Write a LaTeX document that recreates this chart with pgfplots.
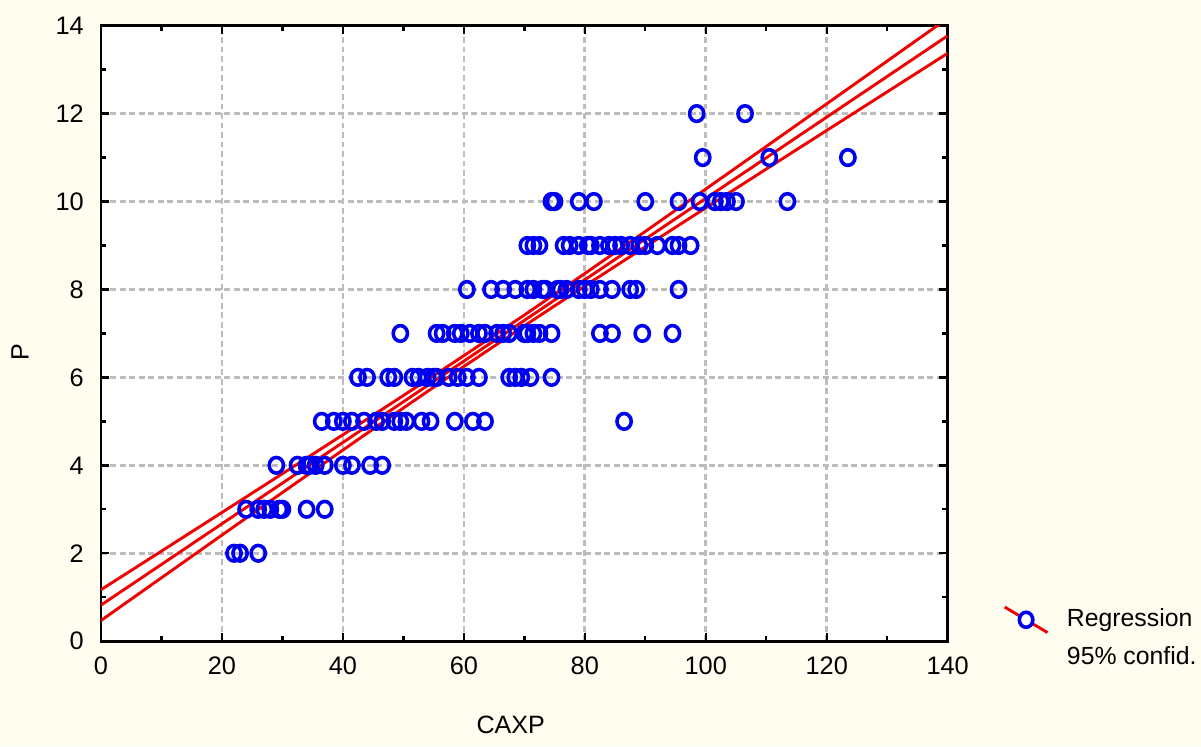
\documentclass[border=0pt]{standalone}
\usepackage{fontspec}
\setmainfont{Liberation Sans}
\usepackage{pgfplots}
\pgfplotsset{compat=1.18}
\definecolor{bgcream}{HTML}{FFFCF0}
\definecolor{gridgray}{HTML}{BDBDBD}
\definecolor{ptblue}{HTML}{0000F0}
\definecolor{regred}{HTML}{F00000}

\begin{document}
\begin{tikzpicture}
% page background (image is 1201x746 px, 1px = 0.01333cm)
\fill[bgcream] (-1.345cm,-1.398cm) rectangle (14.655cm,8.542cm);
\begin{axis}[
  scale only axis,
  width=11.28cm, height=8.2cm,
  xmin=0, xmax=140, ymin=0, ymax=14,
  xtick={0,20,...,140}, ytick={0,2,...,14},
  minor tick num=1,
  tick align=inside,
  major tick length=0.11cm, minor tick length=0.07cm,
  every tick/.style={black, line width=0.9pt},
  axis line style={black, line width=1.1pt},
  axis background/.style={fill=white},
  grid=major,
  major grid style={gridgray, line width=1pt, dash pattern=on 2.2pt off 1.4pt},
  tick label style={font=\fontsize{9.6}{11}\selectfont},
  /pgf/number format/assume math mode=true,
  xticklabel shift=2.5pt, yticklabel shift=3pt,
  label style={font=\fontsize{9.5}{11}\selectfont},
  xlabel={CAXP}, ylabel={P},
  xlabel style={at={(axis description cs:0.484,-0.136)}, anchor=center},
  ylabel style={at={(axis description cs:-0.0956,0.469)}, anchor=center},
  legend style={draw=none, fill=none, at={(axis description cs:1.065,0.062)},
    anchor=north west, font=\fontsize{9.4}{12}\selectfont,
    row sep=2pt, inner sep=0pt,
    /tikz/every odd column/.append style={column sep=0.17cm}},
  legend cell align=left,
]
% observations
\addplot[only marks, mark=o, mark size=2.7pt, ptblue,
  mark options={line width=1.35pt, yscale=1.1}, forget plot] coordinates {
  (22,2) (23,2) (26,2)
  (24,3) (26,3) (27,3) (28,3) (29.5,3) (30,3) (34,3) (37,3)
  (29,4) (32.5,4) (34,4) (34.5,4) (35.5,4) (37,4) (40,4) (41.5,4) (44.5,4) (46.5,4)
  (36.5,5) (38.5,5) (40,5) (41.5,5) (43.5,5) (45.5,5) (46.5,5) (48.5,5) (49.5,5)
  (50.5,5) (53,5) (54.5,5) (58.5,5) (61.5,5) (63.5,5) (86.5,5)
  (42.5,6) (44,6) (47.5,6) (48.5,6) (51.5,6) (52.5,6) (54,6) (55,6) (55.5,6)
  (57.5,6) (59,6) (60.5,6) (62.5,6) (67.5,6) (68.5,6) (69.5,6) (71,6) (74.5,6)
  (49.5,7) (55.5,7) (56.5,7) (58.5,7) (59.5,7) (61,7) (62.5,7) (63.5,7) (65.5,7)
  (66.5,7) (67.5,7) (70,7) (70.5,7) (71.5,7) (72.5,7) (74.5,7) (82.5,7) (84.5,7)
  (89.5,7) (94.5,7)
  (60.5,8) (64.5,8) (66.5,8) (68.5,8) (70.5,8) (71.5,8) (73,8) (73.5,8) (75.5,8)
  (76,8) (77,8) (79,8) (80,8) (81,8) (82.5,8) (84.5,8) (87.5,8) (88.5,8) (95.5,8)
  (70.5,9) (71.5,9) (72.5,9) (76.5,9) (77.5,9) (79,9) (80.5,9) (81,9) (82.5,9)
  (84,9) (85,9) (86,9) (87.5,9) (89,9) (90,9) (92,9) (94.5,9) (95.5,9) (97.5,9)
  (74.5,10) (75,10) (79,10) (81.5,10) (90,10) (95.5,10) (99,10) (101.5,10)
  (102.5,10) (103.5,10) (105,10) (113.5,10)
  (99.5,11) (110.5,11) (123.5,11)
  (98.5,12) (106.5,12)
};
% regression line
\addplot[regred, line width=1.1pt, mark=none,
  legend image code/.code={
    \draw[regred, line width=1.1pt] (0cm,0.17cm) -- (0.57cm,-0.17cm);
    \draw[ptblue, line width=1.35pt, fill=white] (0.285cm,0cm) ellipse (0.09cm and 0.1cm);
  }] coordinates {(0,0.82) (140,13.77)};
\addlegendentry{Regression}
% 95% confidence bands
\addplot[regred, line width=1.1pt, forget plot] coordinates {
  (0,1.170) (10,2.048) (20,2.927) (30,3.809) (40,4.694) (50,5.587) (60,6.493)
  (70,7.418) (80,8.362) (90,9.319) (100,10.284) (110,11.252) (120,12.223)
  (130,13.195) (140,14.168)};
\addplot[regred, line width=1.1pt, forget plot] coordinates {
  (0,0.470) (10,1.442) (20,2.413) (30,3.381) (40,4.346) (50,5.303) (60,6.247)
  (70,7.172) (80,8.078) (90,8.971) (100,9.856) (110,10.738) (120,11.617)
  (130,12.495) (140,13.372)};
\addlegendimage{empty legend}
\addlegendentry{95\% confid.}
\end{axis}
\pgfresetboundingbox
\path (-1.345cm,-1.398cm) rectangle (14.655cm,8.542cm);
\end{tikzpicture}
\end{document}
